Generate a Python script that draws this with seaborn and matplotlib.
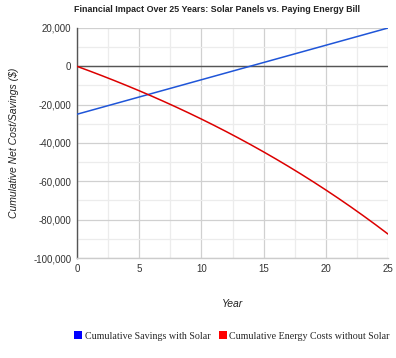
import matplotlib
matplotlib.use("Agg")
import matplotlib.pyplot as plt
import seaborn as sns
import pandas as pd
from matplotlib.patches import Patch
from matplotlib.ticker import MultipleLocator, FuncFormatter

years = list(range(0, 26))
savings_with_solar = [-25000, -23200, -21400, -19600, -17800, -16000, -14200, -12400,
                      -10600, -8800, -7000, -5200, -3400, -1600, 200, 2000, 3800,
                      5600, 7400, 9200, 11000, 12800, 14600, 16400, 18200, 20000]
costs_without_solar = [0, -2400, -4872, -7418, -10041, -12742, -15524, -18390, -21342,
                       -24382, -27513, -30739, -34061, -37483, -41007, -44637, -48376,
                       -52228, -56194, -60280, -64488, -68823, -73287, -77886, -82622,
                       -87501]
series_names = ["Cumulative Savings with Solar", "Cumulative Energy Costs without Solar"]
line_colors = ["#1f55d8", "#dc0000"]
legend_colors = ["#0000ff", "#ff0000"]

df = pd.DataFrame({
    "Year": years * 2,
    "Value": savings_with_solar + costs_without_solar,
    "Series": [series_names[0]] * len(years) + [series_names[1]] * len(years),
})

sns.set_theme(style="white")
plt.rcParams["font.family"] = ["Liberation Sans", "DejaVu Sans"]

fig = plt.figure(figsize=(3.96, 3.58), dpi=100)
ax = fig.add_axes([77 / 396, 1 - 258 / 358, (388 - 77) / 396, (258 - 28) / 358])

sns.lineplot(data=df, x="Year", y="Value", hue="Series", palette=line_colors,
             linewidth=1.1, ax=ax, legend=False, zorder=3)

ax.set_xlim(0, 25)
ax.set_ylim(-100000, 20000)
ax.xaxis.set_major_locator(MultipleLocator(5))
ax.xaxis.set_minor_locator(MultipleLocator(2.5))
ax.yaxis.set_major_locator(MultipleLocator(20000))
ax.yaxis.set_minor_locator(MultipleLocator(10000))
ax.yaxis.set_major_formatter(FuncFormatter(lambda v, p: f"{int(v):,}"))
ax.grid(True, which="major", color="#d0d0d0", linewidth=0.9)
ax.grid(True, which="minor", color="#ececec", linewidth=0.9)
ax.set_axisbelow(True)
ax.axhline(0, color="#555555", linewidth=1.0, zorder=2)

for s in ["top", "right"]:
    ax.spines[s].set_visible(False)
ax.spines["left"].set_color("#555555")
ax.spines["left"].set_linewidth(1.0)
ax.spines["bottom"].set_color("#cccccc")
ax.spines["bottom"].set_linewidth(1.0)

ax.tick_params(axis="both", which="both", length=0, labelsize=7, colors="#333333", pad=4)

ax.set_xlabel("Year", fontsize=7.5, style="italic", color="#222222", labelpad=18)
ax.set_ylabel("Cumulative Net Cost/Savings ($)", fontsize=7.5, style="italic",
              color="#222222", labelpad=10)

fig.text(217 / 396, 1 - 10 / 358,
         "Financial Impact Over 25 Years: Solar Panels vs. Paying Energy Bill",
         ha="center", va="center", fontsize=6.4, fontweight="bold", color="#222222")

handles = [Patch(facecolor=c, edgecolor="none") for c in legend_colors]
fig.legend(handles, series_names, loc="center", bbox_to_anchor=(232 / 396, 1 - 336 / 358),
           ncol=2, frameon=False, prop={"family": "Liberation Serif", "size": 7.2},
           handlelength=0.8, handleheight=0.8, handletextpad=0.25, columnspacing=0.8,
           borderpad=0.1)

fig.savefig("out.png", dpi=100)
